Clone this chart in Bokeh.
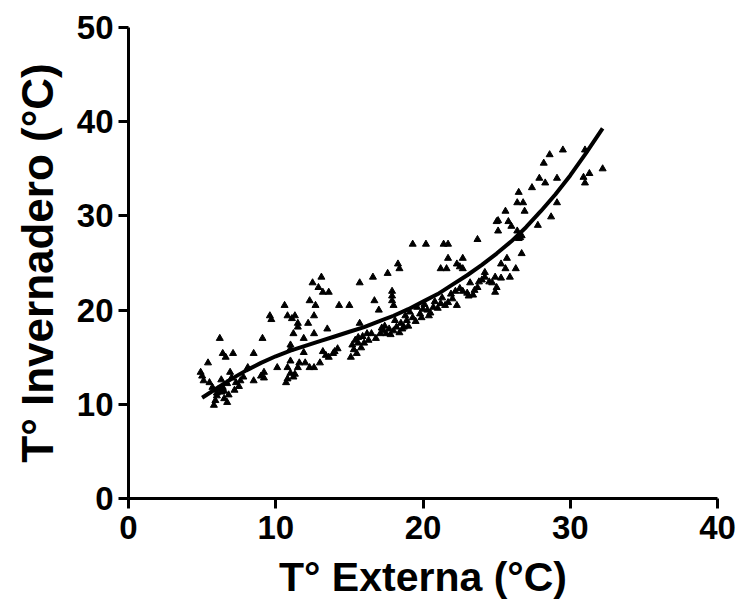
from bokeh.plotting import figure
from bokeh.models import Range1d, FixedTicker
from bokeh.embed import file_html
from bokeh.resources import INLINE

# Scatter data: T° Externa (x) vs T° Invernadero (y)
ext_temp = [
    4.9, 5.0, 5.1, 5.4, 5.5, 5.7, 5.8, 5.9, 6.0, 6.1, 6.2, 6.3, 6.3, 6.4, 6.4, 6.5, 6.6, 6.7, 6.7, 6.8,
    6.9, 7.0, 7.1, 7.2, 7.3, 7.5, 7.6,
    8.1, 8.5, 8.5, 9.0, 9.1, 9.2, 9.2, 9.6, 9.7, 10.1, 10.6, 10.7, 10.8, 10.8, 10.8, 11.0, 11.0, 11.0,
    11.1, 11.2, 11.3, 11.5, 11.3, 11.5, 11.2, 11.6,
    11.5, 11.9, 11.9, 12.0, 12.2, 12.3, 12.3, 12.5, 12.6, 12.6, 12.6, 12.7, 12.9, 13.0, 13.1, 13.2, 13.5,
    13.6, 13.6, 13.9, 14.2, 14.3, 15.0, 15.1, 15.2, 15.4, 15.5, 15.6, 15.7, 15.7, 15.8, 16.0, 16.2, 16.6,
    16.7, 16.5, 17.0,
    17.1, 17.3, 17.5, 17.6, 17.8, 17.9, 17.9, 17.9, 18.0, 18.0, 18.2, 18.3, 18.4, 18.4, 18.5, 18.7, 18.9,
    19.0, 19.3, 19.3, 19.5, 19.8, 20.0, 20.2, 20.3, 20.5, 20.7, 21.0, 21.2, 21.2, 21.4, 21.5, 21.6, 21.7,
    21.7, 21.7,
    22.0, 22.3, 22.3, 22.5, 22.5, 22.7, 22.7, 22.7, 23.0, 23.1, 23.2, 23.4, 23.7, 23.7, 23.8, 24.2, 24.2,
    24.5, 24.7, 24.9, 25.0, 24.9, 25.3, 25.3, 25.6, 25.7, 25.9, 26.3, 26.7, 26.6,
    25.0, 25.1, 25.1, 25.6, 25.8, 26.0, 26.4, 26.4, 26.5, 26.5, 26.7, 26.8, 26.9, 27.4, 27.8, 27.9, 28.2,
    28.3, 28.6, 28.7, 29.1, 29.1, 29.5, 30.9, 31.0, 31.0, 31.3, 32.2,
    15.3, 15.6, 15.9, 16.3, 17.4, 17.7, 18.1, 18.8, 19.1, 19.6, 20.1, 20.8, 21.3, 21.9, 22.2,
    13.2, 13.4, 14.0, 11.0,
    6.0, 6.5, 7.8, 16.8, 17.2, 18.6, 19.9, 20.4, 23.5, 24.0,
]
inv_temp = [
    13.4, 13.0, 12.5, 14.4, 12.3, 11.8, 9.9, 10.4, 10.9, 11.6, 17.0, 11.3, 12.6, 11.8, 15.4, 10.6, 15.0, 10.2, 12.2, 11.0,
    13.4, 12.8, 15.4, 11.5, 12.3, 11.9, 12.5,
    13.9, 12.5, 15.4, 13.0, 17.0, 13.4, 12.8, 19.4, 19.0, 13.9, 20.5, 12.3, 12.7, 13.9, 19.4, 15.9, 13.3, 16.3,
    19.1, 17.5, 13.2, 18.2, 19.4, 13.9, 12.9, 14.4,
    18.6, 17.0, 15.5, 14.4, 18.6, 21.0, 13.9, 22.9, 19.4, 17.5, 13.9, 20.5, 22.4, 14.4, 23.5, 21.9, 18.0,
    21.9, 15.0, 15.4, 15.9, 20.5, 20.5, 15.0, 16.3, 16.8, 15.4, 17.1, 18.6, 22.9, 16.0, 16.5, 17.5, 23.5,
    21.0, 17.5, 20.0,
    17.5, 17.8, 17.5, 23.9, 17.4, 22.0, 21.5, 21.0, 20.5, 17.8, 18.2, 24.9, 24.4, 17.6, 18.6, 18.2, 18.9,
    18.3, 19.2, 27.0, 18.8, 19.6, 20.1, 27.0, 20.0, 19.7, 20.3, 20.2, 20.7, 24.4, 27.0, 20.5, 24.4, 27.0,
    25.5, 20.8,
    21.2, 20.5, 24.9, 22.3, 24.6, 25.5, 22.0, 24.4, 21.8, 21.5, 22.9, 21.6, 22.4, 27.5, 23.0, 24.0, 23.5,
    23.0, 22.9, 21.9, 22.4, 23.5, 23.4, 24.9, 24.4, 25.5, 23.5, 24.4, 26.0, 27.7,
    29.4, 28.4, 29.5, 30.5, 29.4, 28.9, 28.4, 31.4, 27.6, 32.5, 27.9, 31.4, 30.5, 33.0, 29.0, 34.0, 35.6,
    33.5, 36.5, 29.9, 31.4, 34.0, 37.0, 34.1, 33.5, 37.0, 34.5, 35.0,
    15.8, 16.5, 17.2, 16.8, 18.3, 18.0, 18.9, 19.4, 19.8, 20.3, 20.6, 20.9, 21.3, 21.7, 22.0,
    15.6, 15.2, 15.6, 14.6,
    11.2, 11.4, 12.9, 17.0, 18.1, 18.0, 19.2, 19.4, 22.1, 23.2,
]

# Fitted curve
fit_x = [5, 6, 7, 8, 9, 10, 11, 12, 13, 14, 15, 16, 17, 18, 19, 20, 21, 22, 23, 24, 25, 26, 27, 28, 29, 30, 31, 32.2]
fit_y = [10.7, 11.7, 12.7, 13.6, 14.4, 15.1, 15.7, 16.2, 16.7, 17.2, 17.7, 18.2, 18.8, 19.4, 20.1, 20.9,
         21.7, 22.7, 23.7, 24.8, 26.0, 27.3, 28.8, 30.5, 32.3, 34.3, 36.5, 39.3]

x_ticks = [0, 10, 20, 30, 40]
y_ticks = [0, 10, 20, 30, 40, 50]

FONT = "Liberation Sans"

p = figure(width=736, height=606, x_range=Range1d(0, 40), y_range=Range1d(0, 50),
           output_backend="svg", toolbar_location=None,
           min_border_left=128, min_border_right=19, min_border_top=27, min_border_bottom=108)
p.title.visible = False
p.xgrid.visible = False
p.ygrid.visible = False
p.outline_line_color = None
p.background_fill_color = "white"
p.border_fill_color = "white"

p.scatter(ext_temp, inv_temp, marker="triangle", size=7, fill_color="black", line_color="black")
p.line(fit_x, fit_y, line_color="black", line_width=4)

for ax, ticks in ((p.xaxis, x_ticks), (p.yaxis, y_ticks)):
    ax.ticker = FixedTicker(ticks=ticks)
    ax.axis_line_width = 3
    ax.axis_line_color = "black"
    ax.major_tick_line_width = 3
    ax.major_tick_line_color = "black"
    ax.major_tick_out = 10
    ax.major_tick_in = 0
    ax.minor_tick_line_color = None
    ax.major_label_text_font = FONT
    ax.major_label_text_font_style = "bold"
    ax.major_label_text_font_size = "33px"
    ax.major_label_text_color = "black"
    ax.axis_label_text_font = FONT
    ax.axis_label_text_font_style = "bold"
    ax.axis_label_text_color = "black"

p.xaxis.axis_label_text_font_size = "41px"
p.yaxis.axis_label_text_font_size = "44px"
p.xaxis.axis_label = "T° Externa (°C)"
p.yaxis.axis_label = "T° Invernadero (°C)"
p.xaxis.major_label_standoff = 7
p.yaxis.major_label_standoff = 5
p.xaxis.axis_label_standoff = 12
p.yaxis.axis_label_standoff = 12

open("out.html", "w").write(file_html(p, INLINE))
